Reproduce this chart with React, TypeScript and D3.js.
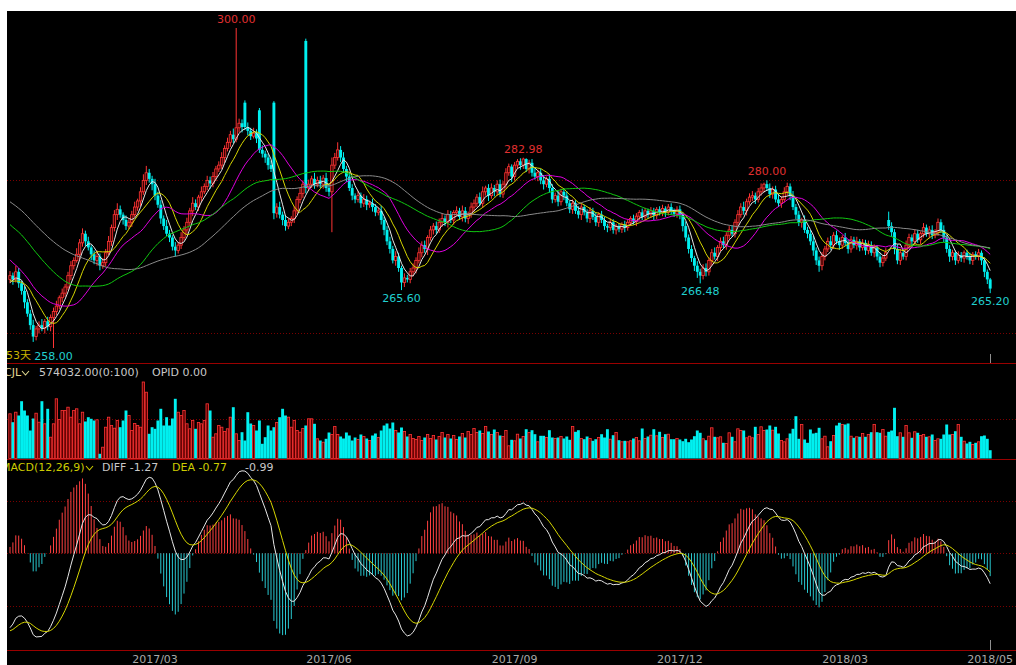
import React from 'react';
import * as d3 from 'd3';

// ---------- data ----------
// closes before the first visible bar, estimated so the moving averages / MACD start where the picture shows them
const warmupClose = [282.0,283.5,284.5,285.0,284.0,285.5,286.0,285.0,284.0,283.5,284.0,283.0,282.5,283.5,282.0,281.5,282.5,281.0,282.0,280.5,
280.0,281.0,280.5,279.5,280.5,281.5,280.5,279.5,280.0,279.0,278.5,279.5,278.0,277.5,278.5,277.0,278.0,277.5,276.5,277.5,
276.0,275.0,274.5,273.5,274.0,272.5,272.0,271.5,271.0,270.0,
269.0,268.0,267.5,267.0,267.0,266.0,265.5,266.5,267.0,266.5];

const closes = [267.5,267.0,268.0,266.5,265.5,264.0,262.5,261.0,259.5,260.5,
261.0,260.6,261.5,260.8,262.0,262.8,263.5,264.6,265.2,266.0,
267.5,268.8,269.5,270.3,271.8,273.0,272.0,271.2,270.3,269.5,
270.0,268.8,269.2,270.5,272.0,273.8,275.5,276.2,275.5,274.8,
274.0,274.5,275.5,276.5,277.3,278.5,280.0,281.0,280.2,279.5,
278.0,276.8,275.0,274.0,273.0,272.5,271.3,270.8,271.5,272.5,
273.5,274.5,276.0,277.0,276.5,277.8,278.5,279.2,280.0,279.6,
280.5,281.5,282.0,283.0,284.2,285.0,286.0,285.4,286.9,287.5,
287.0,287.0,286.5,285.8,286.2,285.5,284.0,283.5,283.0,282.0,
281.5,275.7,276.5,275.5,274.8,274.0,274.5,275.0,276.0,277.5,
278.3,279.5,279.0,279.5,280.2,279.5,280.0,279.5,280.3,279.0,
278.5,282.0,283.0,284.0,283.0,281.5,280.5,279.0,278.0,277.5,
278.0,277.0,277.5,276.8,277.0,276.5,275.8,276.0,274.8,273.5,
272.0,271.0,269.5,270.0,268.5,266.6,267.2,267.0,268.0,268.5,
269.5,270.5,271.5,271.0,272.5,273.5,274.0,273.5,274.5,275.0,
274.5,275.5,274.8,275.8,276.0,275.2,276.0,275.0,275.5,276.5,
277.0,277.8,277.0,278.5,279.0,278.0,279.0,278.5,279.5,278.2,
279.5,281.0,281.8,280.5,282.0,282.5,282.0,282.8,281.5,282.3,
281.0,280.5,281.0,280.0,279.5,280.2,279.0,277.5,278.0,277.2,
278.5,278.0,277.0,276.2,277.0,276.0,275.5,276.5,275.8,275.0,
276.0,275.2,274.5,275.5,274.8,274.0,273.8,274.5,273.5,274.0,
273.6,274.2,273.8,274.5,275.0,274.6,275.3,275.8,275.2,276.0,
275.5,276.0,275.4,276.2,275.8,276.3,275.8,276.5,276.0,275.6,
276.2,275.5,274.0,272.5,271.0,269.8,268.8,268.0,267.5,268.5,
268.0,269.5,270.5,270.0,271.2,272.0,271.5,272.8,273.5,273.0,
274.5,275.5,276.5,276.0,277.2,277.8,278.0,277.5,278.5,279.0,
279.5,279.0,278.2,278.8,277.5,277.0,277.5,278.5,279.2,278.0,
276.5,275.5,274.5,274.8,273.5,273.0,272.0,270.8,269.5,268.8,
270.0,271.0,272.0,271.5,272.8,272.0,271.5,272.5,271.8,271.0,
272.2,271.5,272.0,271.2,271.8,270.8,271.5,270.5,271.2,270.0,
269.2,269.8,270.5,274.0,273.2,271.0,269.5,270.5,270.0,271.5,
272.5,272.0,273.0,272.2,273.0,273.8,273.0,273.5,272.8,273.2,
274.5,273.5,272.5,271.0,270.0,270.5,269.5,270.2,269.8,270.5,
270.0,269.5,270.3,270.0,270.5,269.5,268.0,267.0,265.8];

const opens = [267.0,267.5,267.0,268.0,266.5,265.5,264.0,262.5,261.0,259.5,
260.5,261.0,260.6,261.5,260.8,262.0,262.8,263.5,264.6,265.2,
266.0,267.5,268.8,269.5,270.3,271.8,273.0,272.0,271.2,270.3,
269.5,270.0,268.8,269.2,270.5,272.0,273.8,275.5,276.2,275.5,
274.8,274.0,274.5,275.5,276.5,277.3,278.5,280.0,281.0,280.2,
279.5,278.0,276.8,275.0,274.0,273.0,272.5,271.3,270.8,271.5,
272.5,273.5,274.5,276.0,277.0,276.5,277.8,278.5,279.2,280.0,
279.6,280.5,281.5,282.0,283.0,284.2,285.0,286.0,285.4,286.9,
287.5,290.2,287.0,286.5,285.8,286.2,289.2,284.0,283.5,283.0,
282.0,290.2,275.7,276.5,275.5,274.8,274.0,274.5,275.0,276.0,
277.5,278.3,298.3,279.0,279.5,280.2,279.5,280.0,279.5,280.3,
279.0,278.5,282.0,283.0,284.0,283.0,281.5,280.5,279.0,278.0,
277.5,278.0,277.0,277.5,276.8,277.0,276.5,275.8,276.0,274.8,
273.5,272.0,271.0,269.5,270.0,268.5,266.6,267.2,267.0,268.0,
268.5,269.5,270.5,271.5,271.0,272.5,273.5,274.0,273.5,274.5,
275.0,274.5,275.5,274.8,275.8,276.0,275.2,276.0,275.0,275.5,
276.5,277.0,277.8,277.0,278.5,279.0,278.0,279.0,278.5,279.5,
278.2,279.5,281.0,281.8,280.5,282.0,282.5,282.0,282.8,281.5,
282.3,281.0,280.5,281.0,280.0,279.5,280.2,279.0,277.5,278.0,
277.2,278.5,278.0,277.0,276.2,277.0,276.0,275.5,276.5,275.8,
275.0,276.0,275.2,274.5,275.5,274.8,274.0,273.8,274.5,273.5,
274.0,273.6,274.2,273.8,274.5,275.0,274.6,275.3,275.8,275.2,
276.0,275.5,276.0,275.4,276.2,275.8,276.3,275.8,276.5,276.0,
275.6,276.2,275.5,274.0,272.5,271.0,269.8,268.8,268.0,267.5,
268.5,268.0,269.5,270.5,270.0,271.2,272.0,271.5,272.8,273.5,
273.0,274.5,275.5,276.5,276.0,277.2,277.8,278.0,277.5,278.5,
279.0,279.5,279.0,278.2,278.8,277.5,277.0,277.5,278.5,279.2,
278.0,276.5,275.5,274.5,274.8,273.5,273.0,272.0,270.8,269.5,
268.8,270.0,271.0,272.0,271.5,272.8,272.0,271.5,272.5,271.8,
271.0,272.2,271.5,272.0,271.2,271.8,270.8,271.5,270.5,271.2,
270.0,269.2,269.8,274.8,274.0,273.2,271.0,269.5,270.5,270.0,
271.5,272.5,272.0,273.0,272.2,273.0,273.8,273.0,273.5,272.8,
273.2,274.5,273.5,272.5,271.0,270.0,270.5,269.5,270.2,269.8,
270.5,270.0,269.5,270.3,270.0,270.5,269.5,268.0,267.0];

// upper / lower shadow lengths (price units)
const hiWick = [0.6,0.4,0.8,0.5,0.3,0.6,0.4,0.5,0.7,0.4,
0.5,0.8,0.3,0.6,0.4,0.5,0.7,0.3,0.6,0.4,
0.5,0.6,0.4,0.8,0.5,0.7,0.4,0.6,0.3,0.5,
0.8,0.4,0.6,0.5,0.7,0.4,0.6,0.8,0.5,0.3,
0.6,0.4,0.5,0.7,0.3,0.6,0.8,0.9,0.5,0.4,
0.7,0.5,0.6,0.4,0.8,0.5,0.3,0.6,0.4,0.7,
0.5,0.6,0.4,0.8,0.5,0.3,0.7,0.4,0.6,0.5,
0.6,0.4,0.5,0.7,0.4,0.6,0.5,0.8,13.1,0.6,
0.5,0.3,0.6,0.4,0.7,0.5,0.3,0.6,0.4,0.5,
0.6,0.2,0.5,0.7,0.4,0.6,0.5,0.3,0.6,0.4,
0.7,0.5,0.3,0.6,0.4,0.8,0.5,0.6,0.4,0.7,
0.5,1.0,0.6,1.0,0.5,0.7,0.4,0.6,0.5,0.3,
0.6,0.4,0.7,0.5,0.3,0.6,0.4,0.5,0.7,0.4,
0.5,0.6,0.4,0.7,0.5,0.3,0.6,0.4,0.5,0.6,
0.4,0.7,0.5,0.6,0.3,0.5,0.4,0.6,0.5,0.7,
0.4,0.6,0.5,0.3,0.6,0.4,0.7,0.5,0.4,0.6,
0.5,0.4,0.6,0.7,0.3,0.5,0.6,0.4,0.5,0.6,
0.4,0.6,0.4,0.3,0.4,0.3,0.4,0.18,0.1,0.4,
0.5,0.6,0.4,0.5,0.7,0.3,0.6,0.5,0.4,0.6,
0.4,0.5,0.6,0.3,0.5,0.4,0.6,0.5,0.3,0.4,
0.5,0.4,0.6,0.3,0.5,0.4,0.3,0.5,0.4,0.3,
0.4,0.3,0.5,0.4,0.3,0.5,0.4,0.3,0.5,0.4,
0.3,0.5,0.4,0.3,0.4,0.5,0.3,0.4,0.5,0.3,
0.4,0.5,0.3,0.6,0.4,0.5,0.3,0.6,0.4,0.5,
0.6,0.4,0.5,0.7,0.3,0.5,0.6,0.4,0.5,0.6,
0.4,0.6,0.5,0.7,0.4,0.5,0.6,0.4,0.5,0.6,
0.2,0.5,0.6,0.4,0.5,0.7,0.4,0.6,0.5,0.4,
0.6,0.4,0.5,0.3,0.6,0.4,0.5,0.7,0.4,0.5,
0.6,0.4,0.5,0.7,0.4,0.6,0.5,0.3,0.6,0.4,
0.5,0.4,0.6,0.3,0.5,0.4,0.6,0.5,0.4,0.3,
0.5,0.4,0.6,1.1,0.5,0.4,0.6,0.5,0.4,0.6,
0.5,0.4,0.6,0.5,0.3,0.6,0.4,0.5,0.6,0.4,
0.5,0.4,0.6,0.3,0.5,0.4,0.3,0.5,0.4,0.3,
0.4,0.5,0.3,0.4,0.5,0.3,0.4,0.3,0.2];

const loWick = [0.5,0.7,0.4,0.6,0.5,0.8,0.4,0.6,0.7,0.5,
0.6,0.4,0.7,0.5,0.6,4.0,0.5,0.4,0.6,0.5,
0.4,0.6,0.5,0.3,0.7,0.5,0.6,0.4,0.8,0.5,
0.7,0.6,0.4,0.5,0.3,0.6,0.5,0.7,0.4,0.6,
0.5,0.4,0.6,0.3,0.5,0.7,0.4,0.6,0.5,0.8,
0.6,0.4,0.7,0.5,0.3,0.6,0.5,0.8,0.4,0.5,
0.4,0.6,0.5,0.7,0.4,0.5,0.6,0.3,0.5,0.7,
0.5,0.6,0.4,0.5,0.7,0.4,0.6,0.5,0.4,0.6,
0.7,0.4,0.6,0.5,0.3,0.6,0.4,0.5,0.7,0.6,
0.4,0.8,0.6,0.5,0.7,0.6,0.4,0.5,0.6,0.4,
0.5,0.6,0.7,0.4,0.5,0.6,0.4,0.5,0.6,0.5,
0.6,5.3,0.5,0.4,0.6,0.5,0.7,0.4,0.6,0.5,
0.4,0.6,0.5,0.7,0.4,0.6,0.5,0.4,0.6,0.7,
0.5,0.6,0.4,0.7,0.5,1.0,0.6,0.4,0.5,0.6,
0.7,0.4,0.6,0.5,0.8,0.4,0.6,0.5,0.4,0.6,
0.5,0.7,0.4,0.6,0.5,0.4,0.6,0.5,0.7,0.4,
0.6,0.5,0.4,0.6,0.5,0.7,0.4,0.6,0.5,0.4,
0.5,0.6,0.4,0.7,0.5,0.4,0.6,0.5,0.4,0.6,
0.5,0.4,0.6,0.5,0.7,0.4,0.6,0.5,0.4,0.6,
0.5,0.6,0.4,0.5,0.6,0.4,0.5,0.7,0.4,0.5,
0.6,0.4,0.5,0.6,0.4,0.5,0.6,0.4,0.5,0.6,
0.4,0.5,0.6,0.4,0.5,0.4,0.6,0.5,0.4,0.5,
0.5,0.4,0.6,0.5,0.4,0.5,0.6,0.4,0.5,0.4,
0.5,0.6,0.7,0.5,0.6,0.5,0.7,0.8,1.02,0.5,
0.6,0.5,0.7,0.4,0.6,0.5,0.4,0.6,0.5,0.4,
0.5,0.6,0.4,0.5,0.6,0.4,0.5,0.6,0.4,0.5,
0.6,0.4,0.5,0.6,0.4,0.5,0.6,0.4,0.5,0.6,
0.4,0.6,0.5,0.7,0.4,0.6,0.5,0.7,0.6,0.8,
0.6,0.5,0.4,0.6,0.5,0.4,0.6,0.5,0.4,0.6,
0.5,0.4,0.6,0.5,0.4,0.6,0.5,0.4,0.6,0.5,
0.6,0.5,0.4,0.5,0.6,0.7,0.5,0.6,0.4,0.5,
0.4,0.6,0.5,0.4,0.6,0.5,0.4,0.6,0.5,0.4,
0.5,0.4,0.6,0.5,0.7,0.5,0.6,0.4,0.5,0.6,
0.4,0.5,0.6,0.4,0.5,0.6,0.7,0.6,0.6];

const volume = [44.7,36.3,46.3,43,57.3,48,43,28,40,45.3,
36.3,57.3,34.7,49.7,21.3,34.7,59.7,39,48,48,
51.3,41.3,48,49.7,34.7,46.3,37,41.3,39.7,38,
38.7,4.7,11.3,31.3,41.3,33,30.3,38,31.3,38,
48,43,28,35,33,31.3,76.5,66.3,24.7,31.3,
29.7,38,49.7,33,41.3,33,40,59.7,46.3,43,
48,34.7,29.7,38,29.7,36,34.7,38,54.7,48,
21.3,24.7,33,31.3,27,29.7,41.3,51.3,24.7,18,
26.3,18,46.3,35,33,28,38,14.7,21.3,33,
28,31.3,36,41.3,49.7,43,41.3,31.3,38,28,
26.3,30,33,39.7,39.7,34.7,19.7,18,16.3,19.7,
26,24,32,24,22,20,26,23,18,21,
19,24,22,20,18,23,25,21,28,33,
35,30,36,28,26,31,27,22,24,20,
19,22,18,21,24,20,23,19,22,26,
21,24,20,23,19,22,25,21,27,24,
30,26,28,25,32,27,24,29,26,23,
22,28,12.7,18.7,17.7,24.3,20,22,29.3,26,
28.3,24.3,16.7,22.7,22.7,21,28.3,21,20,21,
22,20,22,18.7,32,26.7,28.3,20,19.3,22,
20,17.7,19.3,21,24.3,21,29.3,19.3,23.3,26,
18.3,16.7,17.7,16.7,17.7,20,21,17.7,30,20,
22,23.3,29.3,22.7,26.7,21,24.3,24.3,19.3,19.3,
20,19,17.3,19.7,16.3,19,22.3,28,25.7,19.7,
18.3,22.3,30.7,21.7,20.7,21.7,15.7,15,25.7,21.7,
16.7,29.7,28,28,20.7,22.3,20.7,31.7,24,31.7,
28,29,33,28.3,31.7,25,18,16.7,19.7,25,
29.7,42.3,19.7,34,19,15.7,29,25,25.7,30.7,
19.7,22.3,11.7,17.3,23,33,35.7,34,34,35,
22.3,20.7,21.7,21.7,25,21.7,24,26.3,34,26.3,
25.7,29,22.3,26.7,28,50.7,22.3,25.7,21.7,33,
25.7,20.7,26.7,25.7,23,24,21.7,21.7,24,18,
19.7,19.7,24,34,24,24,27.3,34,21.7,17.3,
15,16.7,14,15.7,16.7,22.3,23,19.7,8.3];

const maPeriods = [5, 10, 20, 40, 60];
const maColors = ['#e6e6e6', '#d6d600', '#e000e0', '#10c810', '#8a8a8a'];

const monthLabels = ['2017/03', '2017/06', '2017/09', '2017/12', '2018/03', '2018/05'];
const monthBarIndex = [50, 110, 174, 231, 288, 338];

// header readouts as shown in the reference
const volHeader = ['CJL', '574032.00(0:100)', 'OPID 0.00'];
const macdHeader = ['MACD(12,26,9)', 'DIFF -1.27', 'DEA -0.77', '-0.99'];

const priceMarks = [
  { i: 78, kind: 'high' }, { i: 177, kind: 'high' }, { i: 261, kind: 'high' },
  { i: 15, kind: 'low' }, { i: 135, kind: 'low' }, { i: 238, kind: 'low' }, { i: 338, kind: 'low' },
];

const RED = '#ff3434';
const CYAN = '#00f0f0';
const GRID = '#7a0000';
const FONT = 'DejaVu Sans, Noto Sans CJK SC, sans-serif';

function ema(arr: number[], n: number) {
  const a = 2 / (n + 1);
  const out: number[] = [];
  arr.forEach((v, i) => out.push(i === 0 ? v : a * v + (1 - a) * out[i - 1]));
  return out;
}

export default function App() {
  const N = closes.length;
  const x = d3.scaleLinear().domain([0, N - 1]).range([10, 990.2]);
  const yP = d3.scaleLinear().domain([258, 300]).range([348, 28]);
  const yV = d3.scaleLinear().domain([0, 40]).range([458.5, 418.5]);
  const yM = d3.scaleLinear().domain([-2, 2]).range([606, 500.5]);

  const highs = closes.map((c, i) => Math.max(opens[i], c) + hiWick[i]);
  const lows = closes.map((c, i) => Math.min(opens[i], c) - loWick[i]);

  const full = warmupClose.concat(closes);
  const W0 = warmupClose.length;
  const mas = maPeriods.map(n =>
    closes.map((_, i) => {
      const j = i + W0;
      return d3.mean(full.slice(j - n + 1, j + 1)) as number;
    })
  );
  const e12 = ema(full, 12);
  const e26 = ema(full, 26);
  const diffAll = e12.map((v, i) => v - e26[i]);
  const deaAll = ema(diffAll, 9);
  const diff = diffAll.slice(W0);
  const dea = deaAll.slice(W0);
  const macd = diff.map((d, i) => 2 * (d - dea[i]));

  const lineP = d3.line<number>().x((_, i) => x(i)).y(d => yP(d));
  const lineM = d3.line<number>().x((_, i) => x(i)).y(d => yM(d));

  const vee = (cx: number, cy: number, color: string) => (
    <path d={`M${cx - 3.5},${cy - 2} L${cx},${cy + 2} L${cx + 3.5},${cy - 2}`} stroke={color} strokeWidth={1.1} fill="none" />
  );

  return (
    <svg width={1016} height={665} style={{ position: 'absolute', left: 0, top: 0, background: '#fff' }} fontFamily={FONT}>
      <defs>
        <clipPath id="area"><rect x={7} y={11} width={1009} height={654} /></clipPath>
        <clipPath id="pricePane"><rect x={7} y={11} width={1009} height={352} /></clipPath>
      </defs>
      <rect x={7} y={11} width={1009} height={654} fill="#000" />
      <g clipPath="url(#area)">
        {/* guide lines */}
        {[280, 260].map(v => (
          <line key={v} x1={7} x2={1016} y1={Math.round(yP(v)) + 0.5} y2={Math.round(yP(v)) + 0.5} stroke={GRID} strokeDasharray="1,2" />
        ))}
        <line x1={7} x2={1016} y1={Math.round(yV(40)) + 0.5} y2={Math.round(yV(40)) + 0.5} stroke={GRID} strokeDasharray="1,2" />
        {[2, 0, -2].map(v => (
          <line key={v} x1={7} x2={1016} y1={Math.round(yM(v)) + 0.5} y2={Math.round(yM(v)) + 0.5} stroke={GRID} strokeDasharray="1,2" />
        ))}
        <line x1={7} x2={1016} y1={363.5} y2={363.5} stroke="#9a0000" />
        <line x1={7} x2={1016} y1={459.5} y2={459.5} stroke="#9a0000" />
        <line x1={7} x2={1016} y1={650.5} y2={650.5} stroke="#9a0000" />

        {/* candles */}
        <g clipPath="url(#pricePane)">
          {closes.map((c, i) => {
            const o = opens[i];
            const up = c >= o;
            const cx = x(i);
            const top = yP(Math.max(o, c));
            const bot = yP(Math.min(o, c));
            const h = Math.max(1, bot - top);
            return (
              <g key={i}>
                <line x1={cx} x2={cx} y1={yP(highs[i])} y2={yP(lows[i])} stroke={up ? RED : CYAN} strokeWidth={1} />
                {up ? (
                  <rect x={cx - 1.2} y={top} width={2.4} height={h} fill="#3c0000" stroke={RED} strokeWidth={0.8} />
                ) : (
                  <rect x={cx - 1.45} y={top} width={2.9} height={h} fill={CYAN} />
                )}
              </g>
            );
          })}
          {mas.map((m, k) => (
            <path key={k} d={lineP(m) || ''} fill="none" stroke={maColors[k]} strokeWidth={1} />
          ))}
        </g>

        {/* price extreme labels */}
        {priceMarks.map(({ i, kind }) => kind === 'high' ? (
          <text key={i} x={x(i)} y={yP(highs[i]) - 5} fill="#e03030" fontSize={11} textAnchor="middle">{highs[i].toFixed(2)}</text>
        ) : (
          <text key={i} x={x(i)} y={yP(lows[i]) + 12} fill="#20d0d0" fontSize={11} textAnchor="middle">{lows[i].toFixed(2)}</text>
        ))}
        <text x={31} y={359} fill="#c8b400" fontSize={11} textAnchor="end">53天</text>

        {/* volume */}
        {volume.map((v, i) => {
          const up = closes[i] >= opens[i];
          const cx = x(i);
          const top = yV(v);
          return up ? (
            <rect key={i} x={cx - 1.2} y={top} width={2.4} height={yV(0) - top} fill="#5a0000" stroke={RED} strokeWidth={0.8} />
          ) : (
            <rect key={i} x={cx - 1.45} y={top} width={2.9} height={yV(0) - top} fill={CYAN} />
          );
        })}
        <text x={4} y={376} fill="#e0d890" fontSize={11}>{volHeader[0]}</text>
        {vee(25.5, 373, '#e0d890')}
        <text x={39} y={376} fill="#c8c8c8" fontSize={11}>{volHeader[1]}</text>
        <text x={152} y={376} fill="#c8c8c8" fontSize={11}>{volHeader[2]}</text>

        {/* MACD */}
        {macd.map((m, i) => (
          <line key={i} x1={x(i)} x2={x(i)} y1={yM(0)} y2={yM(m)} stroke={m >= 0 ? '#ff4040' : '#28c8d0'} strokeWidth={1} />
        ))}
        <path d={lineM(diff) || ''} fill="none" stroke="#e6e6e6" strokeWidth={1} />
        <path d={lineM(dea) || ''} fill="none" stroke="#d6d600" strokeWidth={1} />
        <text x={1} y={471} fill="#cccc00" fontSize={11}>{macdHeader[0]}</text>
        {vee(89.5, 468, '#cccc00')}
        <text x={102} y={471} fill="#c8c8c8" fontSize={11}>{macdHeader[1]}</text>
        <text x={172} y={471} fill="#cccc00" fontSize={11}>{macdHeader[2]}</text>
        <text x={245} y={471} fill="#c8c8c8" fontSize={11}>{macdHeader[3]}</text>

        {/* cursor ticks at last bar */}
        <line x1={Math.round(x(N - 1)) + 0.5} x2={Math.round(x(N - 1)) + 0.5} y1={354} y2={363} stroke="#909090" />
        <line x1={Math.round(x(N - 1)) + 0.5} x2={Math.round(x(N - 1)) + 0.5} y1={640} y2={650} stroke="#909090" />

        {/* date axis */}
        {monthLabels.map((t, k) => (
          <text key={t} x={x(monthBarIndex[k])} y={663} fill="#a8a8a8" fontSize={11} textAnchor="middle">{t}</text>
        ))}
      </g>
    </svg>
  );
}
